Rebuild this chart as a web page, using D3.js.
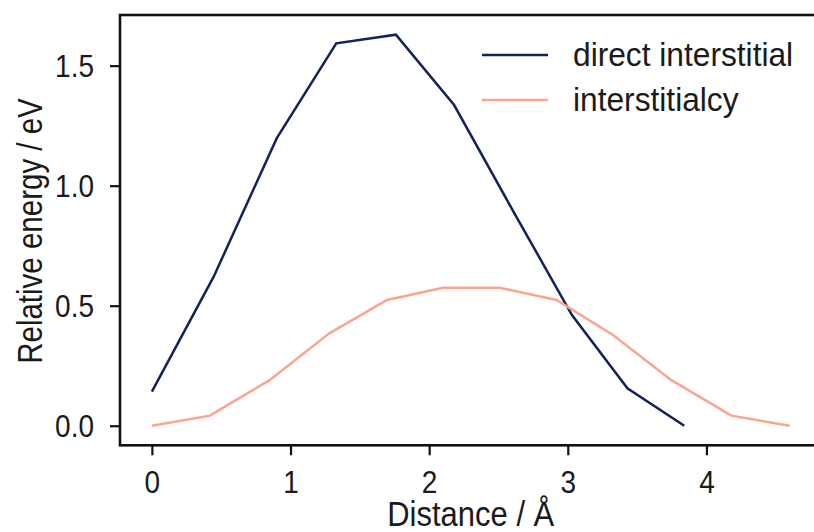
<!DOCTYPE html>
<html>
<head>
<meta charset="utf-8">
<script src="https://cdn.jsdelivr.net/npm/d3@7"></script>
<style>
  html, body { margin: 0; padding: 0; background: #fff; }
  svg { display: block; }
  text { font-family: "Liberation Sans", Arial, Helvetica, sans-serif; fill: #1a1a1a; }
</style>
</head>
<body>
<svg id="chart" width="814" height="532"></svg>
<script>
// Reaction-path energies along the migration coordinate
const directDistance = [0, 0.445, 0.90, 1.33, 1.76, 2.18, 2.61, 3.03, 3.43, 3.84];
const directEnergy   = [0.142, 0.62, 1.197, 1.593, 1.629, 1.336, 0.89, 0.461, 0.156, 0.0];

const cyDistance = [0, 0.418, 0.849, 1.28, 1.696, 2.10, 2.509, 2.918, 3.326, 3.747, 4.18, 4.60];
const cyEnergy   = [0.0, 0.042, 0.19, 0.385, 0.524, 0.575, 0.575, 0.524, 0.378, 0.19, 0.042, 0.0];

const seriesNames = ["direct interstitial", "interstitialcy"];
const seriesColors = ["#13215c", "#fba48e"];

const xTicks = [0, 1, 2, 3, 4];
const yTicks = [0.0, 0.5, 1.0, 1.5];
const xLabel = "Distance / Å";
const yLabel = "Relative energy / eV";

const svg = d3.select("#chart");

const x = d3.scaleLinear().domain([-0.23, 4.83]).range([120, 821.5]);
const y = d3.scaleLinear().domain([-0.0815, 1.711]).range([445.3, 15]);

const [x0, x1] = x.range();
const [yb, yt] = y.range();

// Glyphs in this figure are slightly taller than the base face; stretch text vertically
function stretchedText(sel, tx, ty, rot, sy) {
  return sel.attr("transform", `translate(${tx},${ty}) rotate(${rot}) scale(1,${sy})`);
}

// Lines
const series = [
  { xs: directDistance, ys: directEnergy },
  { xs: cyDistance, ys: cyEnergy }
];
const line = d3.line().x(d => x(d[0])).y(d => y(d[1]));
series.forEach((s, i) => {
  svg.append("path")
    .datum(d3.zip(s.xs, s.ys))
    .attr("fill", "none")
    .attr("stroke", seriesColors[i])
    .attr("stroke-width", 2.5)
    .attr("stroke-linejoin", "miter")
    .attr("d", line);
});

// Axes (ticks only; frame drawn separately)
const xAxis = svg.append("g").attr("transform", `translate(0,${yb})`)
  .call(d3.axisBottom(x).tickValues(xTicks).tickSize(10).tickFormat(d3.format("d")));
const yAxis = svg.append("g").attr("transform", `translate(${x0},0)`)
  .call(d3.axisLeft(y).tickValues(yTicks).tickSize(10).tickFormat(d3.format(".1f")));

[xAxis, yAxis].forEach(g => {
  g.select(".domain").remove();
  g.selectAll(".tick line").attr("stroke", "#111").attr("stroke-width", 2.2);
  g.selectAll(".tick text").remove();
});

xAxis.selectAll(".tick").append("text")
  .attr("text-anchor", "middle")
  .style("font-size", "28px")
  .text(d => d3.format("d")(d))
  .each(function() { stretchedText(d3.select(this), 0, 48, 0, 1.1); });

yAxis.selectAll(".tick").append("text")
  .attr("text-anchor", "end")
  .style("font-size", "28px")
  .text(d => d3.format(".1f")(d))
  .each(function() { stretchedText(d3.select(this), -26, 11, 0, 1.1); });

// Frame
svg.append("rect")
  .attr("x", x0).attr("y", yt)
  .attr("width", x1 - x0).attr("height", yb - yt)
  .attr("fill", "none").attr("stroke", "#111").attr("stroke-width", 2.6);

// Axis labels
stretchedText(svg.append("text"), (x0 + x1) / 2, 526, 0, 1.12)
  .attr("text-anchor", "middle")
  .style("font-size", "31px")
  .text(xLabel);

stretchedText(svg.append("text"), 42, 231, -90, 1.2)
  .attr("text-anchor", "middle")
  .style("font-size", "29.5px")
  .text(yLabel);

// Legend
const legend = svg.append("g");
seriesNames.forEach((name, i) => {
  const ly = 55 + i * 45;
  legend.append("line")
    .attr("x1", 482).attr("x2", 548)
    .attr("y1", ly).attr("y2", ly)
    .attr("stroke", seriesColors[i]).attr("stroke-width", 2.6);
  stretchedText(legend.append("text"), 573, ly + 11, 0, 1.06)
    .style("font-size", "31.7px")
    .text(name);
});
</script>
</body>
</html>
